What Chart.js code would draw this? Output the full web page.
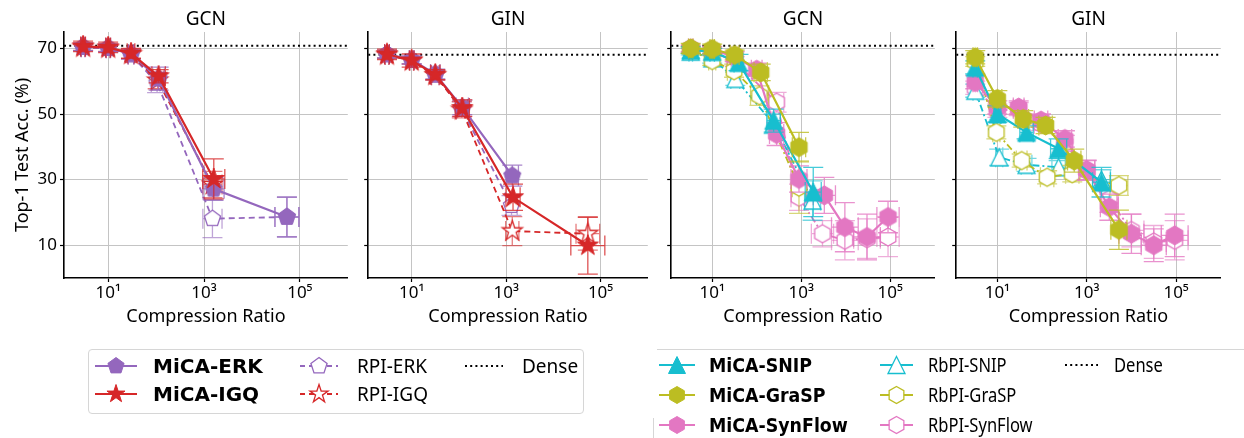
<!DOCTYPE html>
<html>
<head>
<meta charset="utf-8">
<script src="https://cdn.jsdelivr.net/npm/chart.js@4.4.1/dist/chart.umd.min.js"></script>
<style>
  html, body { margin: 0; padding: 0; background: #fff; }
  body { width: 1244px; height: 438px; position: relative; overflow: hidden; font-family: "Noto Sans", sans-serif; }
  canvas { position: absolute; top: 0; }
  .lbl { position: absolute; height: 26px; line-height: 26px; white-space: nowrap; color: #000; transform-origin: left center; }
  .b { font-family: "DejaVu Sans", sans-serif; font-weight: bold; font-size: 20px; }
  .n { font-size: 19px; }
  .sq { transform: scaleX(0.87); }
</style>
</head>
<body>
<canvas id="p1"></canvas>
<canvas id="p2"></canvas>
<canvas id="p3"></canvas>
<canvas id="p4"></canvas>

<div style="position:absolute;left:88px;top:349px;width:494px;height:63px;border:1px solid #d6d6d6;border-radius:4px"></div>
<div style="position:absolute;left:657px;top:349px;width:600px;border-top:1px solid #d6d6d6"></div>
<div style="position:absolute;left:653px;top:418px;height:30px;border-left:1px solid #d6d6d6"></div>
<canvas id="leg" width="1244" height="108" style="top:330px;left:0"></canvas>

<div class="lbl b" style="left:153px;top:353px">MiCA-ERK</div>
<div class="lbl b" style="left:153px;top:381px">MiCA-IGQ</div>
<div class="lbl n" style="left:357px;top:353px">RPI-ERK</div>
<div class="lbl n" style="left:357px;top:381px">RPI-IGQ</div>
<div class="lbl n" style="left:522px;top:353px">Dense</div>

<div class="lbl b sq" style="left:709px;top:352px">MiCA-SNIP</div>
<div class="lbl b sq" style="left:709px;top:382px">MiCA-GraSP</div>
<div class="lbl b sq" style="left:709px;top:412px">MiCA-SynFlow</div>
<div class="lbl n sq" style="left:928px;top:352px">RbPI-SNIP</div>
<div class="lbl n sq" style="left:928px;top:382px">RbPI-GraSP</div>
<div class="lbl n sq" style="left:928px;top:412px">RbPI-SynFlow</div>
<div class="lbl n sq" style="left:1114px;top:352px">Dense</div>

<script>
// axes
const X_MIN = 1.2, X_MAX = 1e6;
const X_TICKS = [10, 1e3, 1e5];
const X_TICK_LABELS = ['10\u00b9', '10\u00b3', '10\u2075'];
const Y_TICKS = [10, 30, 50, 70];
const DENSE_GCN = 70.8, DENSE_GIN = 68.1;

// ---- left group, GCN (x = compression ratio, y = acc, ey = y err, ex = x err in decades)
const lGcnErkX  = [3, 10, 30, 113, 1580, 53700];
const lGcnErkY  = [70.5, 70.2, 68.3, 60.8, 27.2, 18.6];
const lGcnErkEY = [1.2, 1.2, 1.5, 3.5, 3.5, 6.1];
const lGcnErkEX = [0.04, 0.05, 0.06, 0.12, 0.22, 0.25];
const lGcnIgqX  = [3, 10, 30, 113, 1600];
const lGcnIgqY  = [70.6, 70.3, 68.5, 61.5, 30.2];
const lGcnIgqEY = [1.6, 1.6, 1.5, 2.0, 6.1];
const lGcnIgqEX = [0.05, 0.05, 0.08, 0.14, 0.23];
const lGcnRErkX  = [3, 10, 30, 105, 1500, 53700];
const lGcnRErkY  = [70.3, 70.0, 68.0, 59.5, 18.1, 18.6];
const lGcnRErkEY = [1.0, 1.0, 1.3, 3.0, 5.8, 6.0];
const lGcnRErkEX = [0.04, 0.04, 0.06, 0.12, 0.2, 0.25];
const lGcnRIgqX  = [3, 10, 30, 108, 1500];
const lGcnRIgqY  = [70.4, 70.1, 68.2, 60.2, 28.5];
const lGcnRIgqEY = [1.0, 1.0, 1.3, 2.5, 4.0];
const lGcnRIgqEX = [0.04, 0.04, 0.06, 0.12, 0.2];

// ---- left group, GIN
const lGinErkX  = [3, 10, 31.6, 118, 1350];
const lGinErkY  = [68.3, 66.5, 62.2, 52.0, 31.2];
const lGinErkEY = [1.2, 1.2, 1.5, 2.2, 3.2];
const lGinErkEX = [0.05, 0.05, 0.1, 0.13, 0.13];
const lGinIgqX  = [3, 10, 31.6, 118, 1400, 53700];
const lGinIgqY  = [68.2, 66.3, 62.0, 51.8, 24.6, 9.9];
const lGinIgqEY = [1.6, 2.0, 1.5, 2.5, 4.0, 8.7];
const lGinIgqEX = [0.05, 0.05, 0.1, 0.15, 0.15, 0.36];
const lGinRErkX  = [3, 10, 31.6, 115, 1300];
const lGinRErkY  = [68.0, 66.3, 61.8, 51.5, 22.1];
const lGinRErkEY = [1.0, 1.0, 1.5, 2.2, 3.0];
const lGinRErkEX = [0.04, 0.04, 0.08, 0.12, 0.12];
const lGinRIgqX  = [3, 10, 31.6, 115, 1350, 53700];
const lGinRIgqY  = [68.0, 66.2, 61.8, 51.3, 14.3, 13.5];
const lGinRIgqEY = [1.0, 1.0, 1.5, 2.5, 4.4, 5.0];
const lGinRIgqEX = [0.04, 0.04, 0.08, 0.12, 0.14, 0.25];

// ---- right group, GCN
const rGcnSnipX  = [3.3, 10, 39, 240, 1860];
const rGcnSnipY  = [69.5, 69.0, 65.7, 48.0, 26.2];
const rGcnSnipEY = [1.0, 1.0, 2.5, 3.5, 7.5];
const rGcnSnipEX = [0.04, 0.05, 0.1, 0.15, 0.18];
const rGcnGraspX  = [3.3, 10, 32, 123, 890];
const rGcnGraspY  = [70.0, 69.8, 68.0, 62.7, 39.9];
const rGcnGraspEY = [1.5, 1.5, 1.5, 2.5, 4.5];
const rGcnGraspEX = [0.05, 0.05, 0.1, 0.15, 0.15];
const rGcnSynX  = [3.3, 10, 32, 100, 280, 890, 3300, 9550, 30000, 89000];
const rGcnSynY  = [70.0, 69.5, 67.5, 63.5, 43.9, 30.2, 25.2, 15.5, 12.5, 18.6];
const rGcnSynEY = [1.0, 1.0, 1.5, 2.0, 3.5, 4.0, 5.5, 7.5, 7.0, 4.8];
const rGcnSynEX = [0.05, 0.05, 0.08, 0.12, 0.16, 0.18, 0.25, 0.3, 0.3, 0.25];
const rGcnRSnipX  = [3.3, 10, 33, 240, 1800];
const rGcnRSnipY  = [69.0, 67.0, 60.7, 47.0, 23.6];
const rGcnRSnipEY = [1.0, 1.5, 2.0, 3.0, 6.0];
const rGcnRSnipEX = [0.04, 0.05, 0.1, 0.15, 0.18];
const rGcnRGraspX  = [3.3, 10, 31, 115, 890];
const rGcnRGraspY  = [69.5, 66.3, 63.2, 55.6, 27.7];
const rGcnRGraspEY = [1.0, 1.5, 2.0, 3.0, 8.0];
const rGcnRGraspEX = [0.04, 0.08, 0.15, 0.2, 0.15];
const rGcnRSynX  = [3.3, 10, 32, 280, 890, 3000, 9550, 30000, 89000];
const rGcnRSynY  = [69.8, 69.0, 66.0, 53.6, 24.6, 13.5, 11.5, 12.0, 12.5];
const rGcnRSynEY = [1.0, 1.0, 1.5, 3.0, 4.0, 4.0, 6.0, 6.0, 6.0];
const rGcnRSynEX = [0.04, 0.05, 0.08, 0.16, 0.18, 0.25, 0.3, 0.3, 0.25];

// ---- right group, GIN
const rGinSnipX  = [3.2, 10, 45, 235, 2140];
const rGinSnipY  = [64.2, 50.0, 44.4, 39.4, 29.2];
const rGinSnipEY = [2.0, 2.5, 2.0, 3.0, 4.5];
const rGinSnipEX = [0.05, 0.08, 0.15, 0.18, 0.2];
const rGinGraspX  = [3.2, 10, 38, 120, 525, 5250];
const rGinGraspY  = [67.3, 54.6, 48.5, 46.5, 35.8, 14.7];
const rGinGraspEY = [2.0, 2.5, 2.5, 2.5, 3.5, 6.0];
const rGinGraspEX = [0.05, 0.1, 0.12, 0.15, 0.15, 0.18];
const rGinSynX  = [3.2, 10, 30, 95, 325, 1000, 3200, 10000, 31600, 93000];
const rGinSynY  = [59.7, 52.0, 52.0, 48.0, 42.4, 32.8, 21.6, 13.5, 10.0, 13.0];
const rGinSynEY = [2.0, 2.0, 2.0, 2.0, 2.5, 3.0, 4.0, 6.0, 5.0, 6.5];
const rGinSynEX = [0.05, 0.08, 0.12, 0.15, 0.15, 0.18, 0.2, 0.28, 0.28, 0.3];
const rGinRSnipX  = [3.2, 11, 45, 235, 2140];
const rGinRSnipY  = [57.1, 36.8, 34.5, 33.8, 30.0];
const rGinRSnipEY = [2.0, 2.5, 2.0, 2.0, 3.0];
const rGinRSnipEX = [0.05, 0.08, 0.12, 0.15, 0.2];
const rGinRGraspX  = [3.2, 9.5, 35, 130, 475, 5250];
const rGinRGraspY  = [66.0, 44.4, 35.8, 30.7, 31.8, 28.2];
const rGinRGraspEY = [1.5, 2.0, 2.0, 2.0, 2.5, 3.0];
const rGinRGraspEX = [0.05, 0.08, 0.12, 0.15, 0.15, 0.2];
const rGinRSynX  = [3.2, 10, 30, 95, 325, 1000, 3200, 10000, 31600, 93000];
const rGinRSynY  = [58.0, 51.0, 51.5, 47.0, 41.0, 33.0, 24.0, 14.5, 11.0, 11.5];
const rGinRSynEY = [2.0, 2.0, 2.0, 2.0, 2.5, 3.0, 4.0, 5.0, 5.0, 6.0];
const rGinRSynEX = [0.05, 0.08, 0.12, 0.15, 0.15, 0.18, 0.2, 0.28, 0.28, 0.3];

const PURPLE = '#9467bd', RED = '#d62728', CYAN = '#17becf', OLIVE = '#bcbd22', PINK = '#e377c2';
const FONT = 'Noto Sans';
const CAP = 10;

function rgba(hex, a) {
  const n = parseInt(hex.slice(1), 16);
  return `rgba(${n >> 16},${(n >> 8) & 255},${n & 255},${a})`;
}

function shapePath(g, shape, cx, cy, r) {
  g.beginPath();
  if (shape === 'triangle') {
    g.moveTo(cx, cy - r); g.lineTo(cx + r, cy + r); g.lineTo(cx - r, cy + r);
  } else if (shape === 'star') {
    for (let i = 0; i < 10; i++) {
      const a = -Math.PI / 2 + i * Math.PI / 5, rr = i % 2 ? r * 0.382 : r;
      g.lineTo(cx + rr * Math.cos(a), cy + rr * Math.sin(a));
    }
  } else {
    const n = shape === 'pentagon' ? 5 : 6;
    for (let i = 0; i < n; i++) {
      const a = -Math.PI / 2 + i * 2 * Math.PI / n;
      g.lineTo(cx + r * Math.cos(a), cy + r * Math.sin(a));
    }
  }
  g.closePath();
}

function drawMarker(g, shape, cx, cy, r, color, hollow) {
  shapePath(g, shape, cx, cy, r);
  g.fillStyle = hollow ? '#fff' : color;
  g.fill();
  g.lineWidth = hollow ? 1.3 : 1;
  g.strokeStyle = color;
  g.stroke();
}

function markerCanvas(shape, r, color, hollow) {
  const s = Math.ceil(2 * r + 4);
  const c = document.createElement('canvas');
  c.width = c.height = s;
  drawMarker(c.getContext('2d'), shape, s / 2, s / 2, r, color, hollow);
  return c;
}

const SIZE = { pentagon: 9, star: 11, triangle: 9, hexagon: 9.5 };

function series(xs, ys, ey, ex, color, shape, kind, order) {
  const hollow = kind !== 'mica';
  return {
    data: xs.map((x, i) => ({ x, y: ys[i] })),
    errY: ey, errX: ex,
    errColor: rgba(color, hollow ? 0.6 : 0.8),
    borderColor: color,
    borderWidth: hollow ? 1.8 : 2.2,
    borderDash: kind === 'rpi' ? [6, 4] : kind === 'rbpi' ? [7, 3, 2, 3] : [],
    pointStyle: markerCanvas(shape, SIZE[shape] - (hollow ? 0.5 : 0), color, hollow),
    pointRadius: 6,
    fill: false, tension: 0,
    order
  };
}

function denseSet(v) {
  return {
    data: [{ x: X_MIN, y: v }, { x: X_MAX, y: v }],
    borderColor: '#000', borderWidth: 2, borderDash: [2, 3.2],
    pointRadius: 0, fill: false, order: 20
  };
}

const errorBars = {
  id: 'errorBars',
  beforeDatasetDraw(chart, args) {
    const ds = chart.data.datasets[args.index];
    if (!ds.errY) return;
    const { ctx, chartArea: a, scales: { x, y } } = chart;
    ctx.save();
    ctx.beginPath(); ctx.rect(a.left, a.top, a.right - a.left, a.bottom - a.top); ctx.clip();
    ctx.strokeStyle = ds.errColor;
    ctx.lineWidth = 1.3;
    ctx.setLineDash([]);
    ds.data.forEach((p, i) => {
      const px = x.getPixelForValue(p.x), py = y.getPixelForValue(p.y);
      const y1 = y.getPixelForValue(p.y + ds.errY[i]), y2 = y.getPixelForValue(p.y - ds.errY[i]);
      const x1 = x.getPixelForValue(p.x / Math.pow(10, ds.errX[i]));
      const x2 = x.getPixelForValue(p.x * Math.pow(10, ds.errX[i]));
      ctx.beginPath();
      ctx.moveTo(px, y1); ctx.lineTo(px, y2);
      ctx.moveTo(px - CAP, y1); ctx.lineTo(px + CAP, y1);
      ctx.moveTo(px - CAP, y2); ctx.lineTo(px + CAP, y2);
      ctx.moveTo(x1, py); ctx.lineTo(x2, py);
      ctx.moveTo(x1, py - CAP); ctx.lineTo(x1, py + CAP);
      ctx.moveTo(x2, py - CAP); ctx.lineTo(x2, py + CAP);
      ctx.stroke();
    });
    ctx.restore();
  }
};

const panelTitle = {
  id: 'panelTitle',
  afterDraw(chart, args, opts) {
    const { ctx, chartArea: a } = chart;
    ctx.save();
    ctx.font = `19px "${FONT}"`;
    ctx.fillStyle = '#000';
    ctx.textAlign = 'center';
    ctx.textBaseline = 'middle';
    ctx.fillText(opts.text, (a.left + a.right) / 2, 20);
    ctx.restore();
  }
};

function panel(id, left, width, axisW, title, datasets, showY) {
  const cv = document.getElementById(id);
  cv.width = width; cv.height = 335;
  cv.style.left = left + 'px';
  const tickFont = { family: FONT, size: 17 };
  const titleFont = { family: FONT, size: 18 };
  new Chart(cv, {
    type: 'line',
    data: { datasets },
    options: {
      responsive: false, animation: false, events: [],
      layout: { padding: { top: 32, left: 0, right: 0, bottom: 0 } },
      plugins: { legend: { display: false }, tooltip: { enabled: false }, panelTitle: { text: title } },
      scales: {
        x: {
          type: 'logarithmic', min: X_MIN, max: X_MAX,
          afterBuildTicks: s => { s.ticks = X_TICKS.map(v => ({ value: v })); },
          afterFit: s => { s.height = 57; },
          grid: { color: '#c4c4c4', lineWidth: 1, tickColor: '#000', tickLength: 4, tickWidth: 1.2 },
          border: { display: true, color: '#000', width: 1.6 },
          ticks: { font: tickFont, color: '#000', padding: 1, maxRotation: 0, autoSkip: false, callback: (v, i) => X_TICK_LABELS[i] },
          title: { display: true, text: 'Compression Ratio', font: titleFont, color: '#000', padding: { top: 0, bottom: 7 } }
        },
        y: {
          min: 0, max: 75,
          afterBuildTicks: s => { s.ticks = Y_TICKS.map(v => ({ value: v })); },
          afterFit: s => { s.width = axisW; },
          grid: { color: '#c4c4c4', lineWidth: 1, tickColor: '#000', tickLength: 4, tickWidth: 1.2 },
          border: { display: true, color: '#000', width: 1.6 },
          ticks: { display: showY, font: tickFont, color: '#000', padding: 3 },
          title: { display: showY, text: 'Top-1 Test Acc. (%)', font: titleFont, color: '#000', padding: { top: 12, bottom: 0 } }
        }
      }
    },
    plugins: [errorBars, panelTitle]
  });
}

panel('p1', 0, 356, 64, 'GCN', [
  series(lGcnIgqX, lGcnIgqY, lGcnIgqEY, lGcnIgqEX, RED, 'star', 'mica', 0),
  series(lGcnErkX, lGcnErkY, lGcnErkEY, lGcnErkEX, PURPLE, 'pentagon', 'mica', 1),
  series(lGcnRIgqX, lGcnRIgqY, lGcnRIgqEY, lGcnRIgqEX, RED, 'star', 'rpi', 2),
  series(lGcnRErkX, lGcnRErkY, lGcnRErkEY, lGcnRErkEX, PURPLE, 'pentagon', 'rpi', 3),
  denseSet(DENSE_GCN)
], true);

panel('p2', 360, 296, 4, 'GIN', [
  series(lGinIgqX, lGinIgqY, lGinIgqEY, lGinIgqEX, RED, 'star', 'mica', 0),
  series(lGinErkX, lGinErkY, lGinErkEY, lGinErkEX, PURPLE, 'pentagon', 'mica', 1),
  series(lGinRIgqX, lGinRIgqY, lGinRIgqEY, lGinRIgqEX, RED, 'star', 'rpi', 2),
  series(lGinRErkX, lGinRErkY, lGinRErkEY, lGinRErkEX, PURPLE, 'pentagon', 'rpi', 3),
  denseSet(DENSE_GIN)
], false);

panel('p3', 663, 280, 4, 'GCN', [
  series(rGcnGraspX, rGcnGraspY, rGcnGraspEY, rGcnGraspEX, OLIVE, 'hexagon', 'mica', 0),
  series(rGcnSnipX, rGcnSnipY, rGcnSnipEY, rGcnSnipEX, CYAN, 'triangle', 'mica', 1),
  series(rGcnSynX, rGcnSynY, rGcnSynEY, rGcnSynEX, PINK, 'hexagon', 'mica', 2),
  series(rGcnRGraspX, rGcnRGraspY, rGcnRGraspEY, rGcnRGraspEX, OLIVE, 'hexagon', 'rbpi', 3),
  series(rGcnRSnipX, rGcnRSnipY, rGcnRSnipEY, rGcnRSnipEX, CYAN, 'triangle', 'rbpi', 4),
  series(rGcnRSynX, rGcnRSynY, rGcnRSynEY, rGcnRSynEX, PINK, 'hexagon', 'rbpi', 5),
  denseSet(DENSE_GCN)
], false);

panel('p4', 948, 281, 4, 'GIN', [
  series(rGinGraspX, rGinGraspY, rGinGraspEY, rGinGraspEX, OLIVE, 'hexagon', 'mica', 0),
  series(rGinSnipX, rGinSnipY, rGinSnipEY, rGinSnipEX, CYAN, 'triangle', 'mica', 1),
  series(rGinSynX, rGinSynY, rGinSynEY, rGinSynEX, PINK, 'hexagon', 'mica', 2),
  series(rGinRGraspX, rGinRGraspY, rGinRGraspEY, rGinRGraspEX, OLIVE, 'hexagon', 'rbpi', 3),
  series(rGinRSnipX, rGinRSnipY, rGinRSnipEY, rGinRSnipEX, CYAN, 'triangle', 'rbpi', 4),
  series(rGinRSynX, rGinRSynY, rGinRSynEY, rGinRSynEX, PINK, 'hexagon', 'rbpi', 5),
  denseSet(DENSE_GIN)
], false);

// legend symbols
const lg = document.getElementById('leg').getContext('2d');
function legendSym(x1, x2, cy, color, dash, shape, hollow) {
  lg.save();
  lg.strokeStyle = color;
  lg.lineWidth = 2;
  lg.setLineDash(dash);
  lg.beginPath(); lg.moveTo(x1, cy); lg.lineTo(x2, cy); lg.stroke();
  lg.setLineDash([]);
  if (shape) drawMarker(lg, shape, (x1 + x2) / 2, cy, shape === 'star' ? 9.5 : 8.5, color, hollow);
  lg.restore();
}
legendSym(95, 137, 36, PURPLE, [], 'pentagon', false);
legendSym(95, 137, 64, RED, [], 'star', false);
legendSym(300, 338, 36, PURPLE, [5, 4], 'pentagon', true);
legendSym(300, 338, 64, RED, [5, 4], 'star', true);
legendSym(465, 503, 36, '#000', [2, 3.2], null, false);
legendSym(659, 695, 35, CYAN, [], 'triangle', false);
legendSym(659, 695, 65, OLIVE, [], 'hexagon', false);
legendSym(659, 695, 95, PINK, [], 'hexagon', false);
legendSym(880, 913, 35, CYAN, [], 'triangle', true);
legendSym(880, 913, 65, OLIVE, [], 'hexagon', true);
legendSym(880, 913, 95, PINK, [], 'hexagon', true);
legendSym(1065, 1098, 35, '#000', [2, 3.2], null, false);
</script>
</body>
</html>
